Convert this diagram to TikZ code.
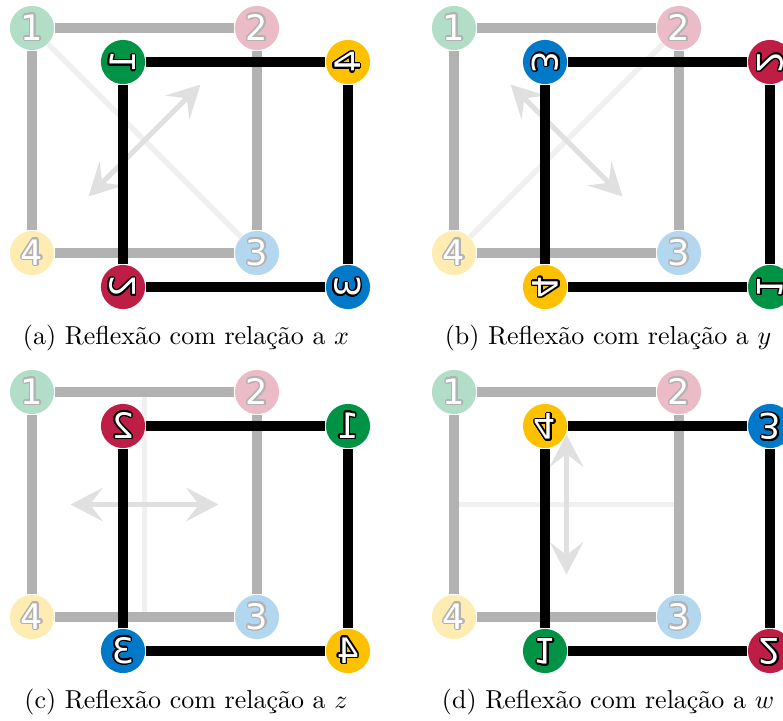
\documentclass[tikz,border=0pt]{standalone}
\usepackage{fontspec}
\usepackage[copies]{contour}
\usetikzlibrary{calc}
\usetikzlibrary{arrows.meta}

\newfontfamily\digitfont{DejaVu Sans}
\contourlength{0.55pt}
\contournumber{20}

\definecolor{cor1}{RGB}{0,146,69}
\definecolor{cor2}{RGB}{190,30,69}
\definecolor{cor3}{RGB}{0,121,200}
\definecolor{cor4}{RGB}{253,193,0}

\begin{document}
\begin{tikzpicture}[x=0.385pt, y=-0.385pt,
        vertice/.style={circle, minimum size=17pt, inner sep=0pt, text=white,
            font=\digitfont\fontsize{13.5pt}{13.5pt}\selectfont},
        apagada/.style={draw=black!30, line width=3.6pt},
        aresta/.style={draw=black, line width=4.2pt},
        eixo/.style={draw=black!6, line width=2.1pt},
        seta/.style={draw=black!12, line width=2pt, >={Stealth[length=12.5pt,width=13pt,inset=5pt]}, <->},
        legenda/.style={anchor=base, font=\normalsize}]
    \useasboundingbox (0,0) rectangle (783,720);
    \foreach \dx/\dy/\ma/\mb/\mc/\md/\ta/\tb/\tc/\td/\ea/\eb/\sx/\sy/\letra/\var in {
            0/0/0/-1/-1/0/1/4/3/2/f1/f3/56/-56/a/x,
            422/0/0/1/1/0/3/2/1/4/f2/f4/56/56/b/y,
            0/364/-1/0/0/1/2/1/4/3/m12/m43/74/0/c/z,
            422/364/1/0/0/-1/4/3/2/1/m14/m23/0/70/d/w}{
        \begin{scope}[shift={(\dx,\dy)}]
            % quadrado original
            \node[vertice, fill=cor1!30] (f1) at (32,28) {\contour{black!30}{1}};
            \node[vertice, fill=cor2!30] (f2) at (257,28) {\contour{black!30}{2}};
            \node[vertice, fill=cor3!30] (f3) at (257,253) {\contour{black!30}{3}};
            \node[vertice, fill=cor4!30] (f4) at (32,253) {\contour{black!30}{4}};
            \coordinate (m12) at ($(f1)!.5!(f2)$);
            \coordinate (m43) at ($(f4)!.5!(f3)$);
            \coordinate (m14) at ($(f1)!.5!(f4)$);
            \coordinate (m23) at ($(f2)!.5!(f3)$);
            \coordinate (c) at ($(f1)!.5!(f3)$);
            \path (c) ++(\sx,\sy) coordinate (s2);
            \coordinate (s1) at ($(c)!-1!(s2)$);
            \draw[eixo] (\ea) -- (\eb);
            \draw[seta] (s1) -- (s2);
            \draw[apagada] (f1) -- (f2) -- (f3) -- (f4) -- (f1);
            % quadrado refletido
            \node[vertice, fill=cor\ta, cm={\ma,\mb,\mc,\md,(0,0)}] (p1) at (123,62) {\contour{black}{\ta}};
            \node[vertice, fill=cor\tb, cm={\ma,\mb,\mc,\md,(0,0)}] (p2) at (348,62) {\contour{black}{\tb}};
            \node[vertice, fill=cor\tc, cm={\ma,\mb,\mc,\md,(0,0)}] (p3) at (348,287) {\contour{black}{\tc}};
            \node[vertice, fill=cor\td, cm={\ma,\mb,\mc,\md,(0,0)}] (p4) at (123,287) {\contour{black}{\td}};
            \draw[aresta] (p1) -- (p2) -- (p3) -- (p4) -- (p1);
            \node[legenda] (leg) at (186,344) {(\letra) Reflexão com relação a $\var$};
        \end{scope}
    }
\end{tikzpicture}
\end{document}
